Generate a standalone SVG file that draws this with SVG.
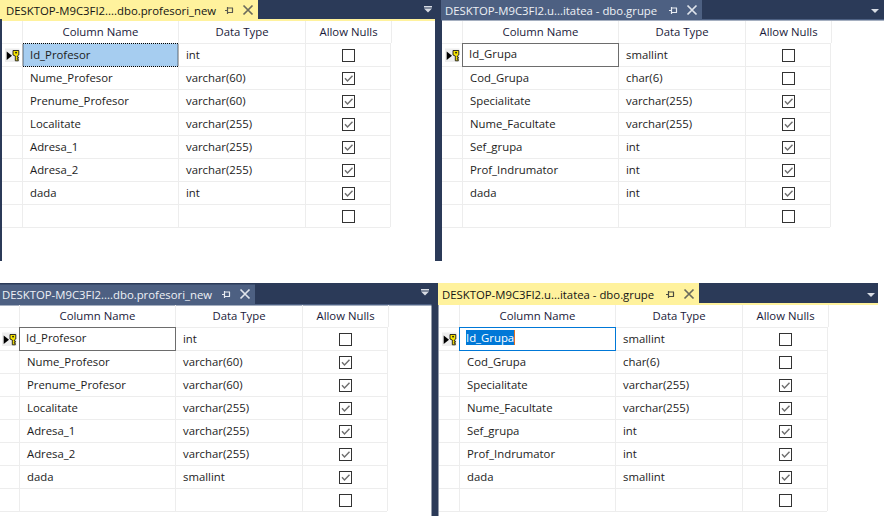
<svg xmlns="http://www.w3.org/2000/svg" width="884" height="516" viewBox="0 0 884 516">
<style>
text{font-family:"Open Sans","Noto Sans","Liberation Sans",sans-serif;font-size:11.350px;fill:#1c1c1c}
.h{text-anchor:middle;fill:#1a1a3a}
.t{fill:#141414}
.w{fill:#eef1f6}
.s{fill:#fff}
.g{stroke:#ededed;stroke-width:1;fill:none}
.b{fill:none;stroke:#333;stroke-width:1}
.k{fill:none;stroke:#6e6e6e;stroke-width:1.4}
.d{fill:#2b3a58}
.y{fill:#fff29d}
.a{fill:#4d6082}
</style>
<defs>
<g id="grid">
<path class="g" d="M2 43.5H391M2 66.5H390M2 89.5H390M2 112.5H390M2 135.5H390M2 158.5H390M2 181.5H390M2 204.5H390M2 227.5H390M22.500 21V227M178.500 21V227M305.500 21V227M391.500 21V43M390.500 43V227"/>
</g>
<g id="off"><rect class="b" x="342.500" y="49.500" width="12" height="12" fill="#fff"/></g>
<g id="on"><use href="#off"/><path class="k" d="M345 55.300L347.500 58L352.500 52.800"/></g>
<g id="key">
<rect x="0" y="0" width="14.500" height="13.500" fill="#eeeeee"/>
<path d="M1.700 3L7 7.200L1.700 11.500Z" fill="#000"/>
<path d="M8 2H13.800V6.500L12.300 7.500V8.500H13.300V9.800H12.300V10.800H13.300V12.300H10.300V7.500L8 6.500Z" fill="#f7e400" stroke="#1a1a1a" stroke-width=".9"/>
<rect x="10.200" y="3.400" width="1.700" height="1.500" fill="#1a1a1a"/>
</g>
<path id="pin" d="M0 4H2.500M2.500 .5V7.500M2.500 1.500H8M2.500 6H8M7.500 1.500V6" fill="none" stroke-width="1.200"/>
<path id="x" d="M0 0L9 9M9 0L0 9" fill="none" stroke-width="1.700"/>
</defs>
<rect width="884" height="516" fill="#fff"/>

<g id="chrome">
<rect class="d" x="0" y="0" width="442" height="19"/>
<rect class="y" x="2" y="19" width="433" height="2"/>
<rect class="y" x="0" y="0" width="258" height="19"/>
<rect class="d" x="0" y="19" width="2" height="242"/>
<rect class="d" x="435" y="0" width="7" height="261"/>
<rect class="d" x="441" y="0" width="443" height="19"/>
<rect class="a" x="441" y="19" width="443" height="1.500"/>
<rect class="a" x="441" y="0" width="261" height="19"/>
<rect class="d" x="0" y="283" width="439" height="21"/>
<rect class="a" x="0" y="304" width="432" height="1.500"/>
<rect class="a" x="0" y="284.500" width="255" height="20"/>
<rect class="d" x="431.500" y="283" width="7" height="233"/>
<rect class="d" x="438" y="283" width="440" height="20"/>
<rect class="y" x="438" y="303" width="440" height="2"/>
<rect class="y" x="438" y="283" width="261" height="21"/>
<g fill="#d8dce4">
<path d="M424 6H432V7.500H424ZM424 8.500H432L428 12.500Z"/>
<path d="M871 9H879L875 13Z"/>
<path d="M421 289H429V290.500H421ZM421 291.500H429L425 295.500Z"/>
<path d="M867 293H875L871 297Z"/>
</g>
<use href="#pin" x="225" y="6.500" stroke="#5a5a50"/><use href="#x" x="243.500" y="5.500" stroke="#6b6b5c"/>
<use href="#pin" x="669" y="6.500" stroke="#e8ecf2"/><use href="#x" x="687.500" y="5.500" stroke="#dfe4ec"/>
<use href="#pin" x="222" y="290.500" stroke="#e8ecf2"/><use href="#x" x="240.500" y="289.500" stroke="#dfe4ec"/>
<use href="#pin" x="666" y="290.500" stroke="#4a4a40"/><use href="#x" x="684.500" y="289.500" stroke="#6b6b5c"/>
</g>

<g id="panel-profesori-int">
<text class="t" x="6" y="14.500">DESKTOP-M9C3FI2....dbo.profesori_new</text>
<use href="#grid"/>
<rect x="23" y="43.500" width="155" height="23" fill="#a6cdf0" stroke="#000" stroke-dasharray="1 1"/>
<use href="#key" x="5" y="48.500"/>
<text class="h" x="100.500" y="36">Column Name</text><text class="h" x="242" y="36">Data Type</text><text class="h" x="348.500" y="36">Allow Nulls</text>
<text x="30" y="59">Id_Profesor</text><text x="186" y="59">int</text><use href="#off"/>
<text x="30" y="82">Nume_Profesor</text><text x="186" y="82">varchar(60)</text><use href="#on" y="23"/>
<text x="30" y="105">Prenume_Profesor</text><text x="186" y="105">varchar(60)</text><use href="#on" y="46"/>
<text x="30" y="128">Localitate</text><text x="186" y="128">varchar(255)</text><use href="#on" y="69"/>
<text x="30" y="151">Adresa_1</text><text x="186" y="151">varchar(255)</text><use href="#on" y="92"/>
<text x="30" y="174">Adresa_2</text><text x="186" y="174">varchar(255)</text><use href="#on" y="115"/>
<text x="30" y="197">dada</text><text x="186" y="197">int</text><use href="#on" y="138"/>
<use href="#off" y="161"/>
</g>

<g id="panel-grupe-int" transform="translate(440 0)">
<text class="w" x="5" y="14.500">DESKTOP-M9C3FI2.u...itatea - dbo.grupe</text>
<use href="#grid"/>
<rect x="22.500" y="43.500" width="156" height="23" fill="#fff" stroke="#6d6d6d"/>
<use href="#key" x="5" y="48.500"/>
<text class="h" x="100.500" y="36">Column Name</text><text class="h" x="242" y="36">Data Type</text><text class="h" x="348.500" y="36">Allow Nulls</text>
<text x="29" y="58">Id_Grupa</text><text x="186" y="59">smallint</text><use href="#off"/>
<text x="30" y="82">Cod_Grupa</text><text x="186" y="82">char(6)</text><use href="#off" y="23"/>
<text x="30" y="105">Specialitate</text><text x="186" y="105">varchar(255)</text><use href="#on" y="46"/>
<text x="30" y="128">Nume_Facultate</text><text x="186" y="128">varchar(255)</text><use href="#on" y="69"/>
<text x="30" y="151">Sef_grupa</text><text x="186" y="151">int</text><use href="#on" y="92"/>
<text x="30" y="174">Prof_Indrumator</text><text x="186" y="174">int</text><use href="#on" y="115"/>
<text x="30" y="197">dada</text><text x="186" y="197">int</text><use href="#on" y="138"/>
<use href="#off" y="161"/>
</g>

<g id="panel-profesori-smallint" transform="translate(-3 284)">
<text class="w" x="5" y="15">DESKTOP-M9C3FI2....dbo.profesori_new</text>
<use href="#grid"/>
<rect x="22.500" y="43.500" width="156" height="23" fill="#fff" stroke="#6d6d6d"/>
<use href="#key" x="5" y="48.500"/>
<text class="h" x="100.500" y="36">Column Name</text><text class="h" x="242" y="36">Data Type</text><text class="h" x="348.500" y="36">Allow Nulls</text>
<text x="29" y="58">Id_Profesor</text><text x="186" y="59">int</text><use href="#off"/>
<text x="30" y="82">Nume_Profesor</text><text x="186" y="82">varchar(60)</text><use href="#on" y="23"/>
<text x="30" y="105">Prenume_Profesor</text><text x="186" y="105">varchar(60)</text><use href="#on" y="46"/>
<text x="30" y="128">Localitate</text><text x="186" y="128">varchar(255)</text><use href="#on" y="69"/>
<text x="30" y="151">Adresa_1</text><text x="186" y="151">varchar(255)</text><use href="#on" y="92"/>
<text x="30" y="174">Adresa_2</text><text x="186" y="174">varchar(255)</text><use href="#on" y="115"/>
<text x="30" y="197">dada</text><text x="186" y="197">smallint</text><use href="#on" y="138"/>
<use href="#off" y="161"/>
</g>

<g id="panel-grupe-smallint" transform="translate(437 284)">
<text class="t" x="5" y="15">DESKTOP-M9C3FI2.u...itatea - dbo.grupe</text>
<use href="#grid"/>
<rect x="22.500" y="43.500" width="156" height="23" fill="#fff" stroke="#0078d7"/>
<rect x="29" y="46" width="48" height="15" fill="#0078d7"/>
<rect x="77" y="46" width="1" height="15" fill="#e07020"/>
<use href="#key" x="5" y="48.500"/>
<text class="h" x="100.500" y="36">Column Name</text><text class="h" x="242" y="36">Data Type</text><text class="h" x="348.500" y="36">Allow Nulls</text>
<text class="s" x="29" y="58">Id_Grupa</text><text x="186" y="59">smallint</text><use href="#off"/>
<text x="30" y="82">Cod_Grupa</text><text x="186" y="82">char(6)</text><use href="#off" y="23"/>
<text x="30" y="105">Specialitate</text><text x="186" y="105">varchar(255)</text><use href="#on" y="46"/>
<text x="30" y="128">Nume_Facultate</text><text x="186" y="128">varchar(255)</text><use href="#on" y="69"/>
<text x="30" y="151">Sef_grupa</text><text x="186" y="151">int</text><use href="#on" y="92"/>
<text x="30" y="174">Prof_Indrumator</text><text x="186" y="174">int</text><use href="#on" y="115"/>
<text x="30" y="197">dada</text><text x="186" y="197">smallint</text><use href="#on" y="138"/>
<use href="#off" y="161"/>
</g>
</svg>
